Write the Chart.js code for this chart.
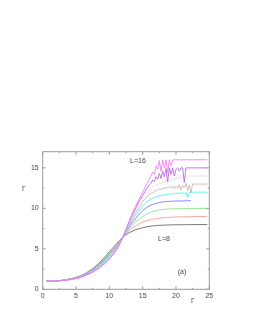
<!DOCTYPE html>
<html lang="en">
  <head>
    <meta charset="UTF-8" />
    <script src="https://cdn.jsdelivr.net/npm/chart.js"></script>
    <title>Gamma vs Gamma</title>
    <style>
      html, body { margin: 0; padding: 0; background: #fff; }
      #wrap { width: 253px; height: 327px; }
    </style>
  </head>
  <body>
    <div id="wrap"><canvas id="myChart"></canvas></div>
    <script>
      // x positions shared by every curve
      const xs = [0.5, 1.5, 2.5, 3.5, 4.5, 5.5, 6.5, 7.5, 8.5, 9.5, 10, 10.5, 11, 11.5, 12, 12.5, 13, 13.5, 14, 14.5, 15, 15.5, 16,
        16.25, 16.5, 16.75, 17, 17.25, 17.5, 17.75, 18, 18.25, 18.5, 18.75, 19, 19.25, 19.5, 19.75, 20, 20.25, 20.5, 20.75,
        21, 21.25, 21.5, 21.75, 22, 22.25, 22.5, 23, 24.7];

      const L8 = [1.0, 1.02, 1.07, 1.18, 1.36, 1.62, 2.00, 2.55, 3.25, 4.15, 4.65, 5.10, 5.55, 6.00, 6.45, 6.75, 7.00, 7.20, 7.38, 7.50, 7.60, 7.70, 7.78,
        7.80, 7.83, 7.85, 7.87, 7.88, 7.90, 7.91, 7.92, 7.93, 7.94, 7.95, 7.95, 7.96, 7.96, 7.97, 7.97, 7.97, 7.98, 7.98,
        7.98, 7.98, 7.99, 7.99, 7.99, 7.99, 8.0, 8.0, 8.0];
      const L9 = [1.0, 1.02, 1.07, 1.17, 1.35, 1.60, 1.96, 2.49, 3.17, 4.04, 4.53, 4.99, 5.45, 5.93, 6.44, 6.90, 7.25, 7.60, 7.85, 8.10, 8.30, 8.45, 8.55,
        8.60, 8.65, 8.68, 8.72, 8.75, 8.78, 8.80, 8.82, 8.84, 8.86, 8.88, 8.89, 8.90, 8.91, 8.92, 8.93, 8.94, 8.94, 8.95,
        8.95, 8.96, 8.96, 8.96, 8.97, 8.97, 8.98, 9.0, 9.0];
      const L10 = [1.0, 1.02, 1.07, 1.17, 1.33, 1.57, 1.93, 2.43, 3.09, 3.94, 4.41, 4.88, 5.35, 5.86, 6.43, 7.00, 7.50, 7.95, 8.35, 8.70, 9.00, 9.25, 9.45,
        9.52, 9.60, 9.66, 9.72, 9.76, 9.80, 9.83, 9.86, 9.88, 9.90, 9.91, 9.92, 9.93, 9.94, 9.95, 9.95, 9.96, 9.96, 9.97,
        9.97, 9.97, 9.98, 9.98, 9.98, 9.98, 9.99, 10.0, 10.0];
      const L11 = [1.0, 1.02, 1.06, 1.16, 1.32, 1.55, 1.89, 2.38, 3.01, 3.83, 4.30, 4.76, 5.25, 5.79, 6.42, 7.10, 7.70, 8.30, 8.80, 9.30, 9.70, 10.05, 10.30,
        10.40, 10.48, 10.55, 10.62, 10.67, 10.72, 10.76, 10.80, 10.82, 10.84, 10.86, 10.87, 10.88, 10.89, 10.90, 10.90, 10.91, 10.91, 10.92,
        10.92, 10.93, 10.93, 10.94, 10.94, 10.95, null, null, null];
      const L12 = [1.0, 1.02, 1.06, 1.15, 1.30, 1.52, 1.85, 2.32, 2.93, 3.72, 4.18, 4.65, 5.15, 5.72, 6.41, 7.20, 7.90, 8.60, 9.20, 9.80, 10.30, 10.75, 11.05,
        11.15, 11.25, 11.33, 11.42, 11.48, 11.55, 11.60, 11.65, 11.68, 11.72, 11.74, 11.77, 11.80, 11.82, 11.80, 11.85, 11.88, 11.85, 11.90,
        11.95, 11.80, 11.95, 11.30, 12.0, 12.0, 12.0, 12.0, 12.0];
      const L13 = [1.0, 1.02, 1.06, 1.14, 1.29, 1.50, 1.81, 2.26, 2.85, 3.62, 4.06, 4.54, 5.05, 5.65, 6.40, 7.30, 8.05, 8.85, 9.55, 10.20, 10.80, 11.30, 11.70,
        11.85, 11.95, 12.10, 12.20, 12.25, 12.40, 12.30, 12.50, 12.45, 12.60, 12.50, 12.70, 12.55, 12.80, 12.40, 12.75, 12.50, 12.90, 12.30,
        12.80, 12.60, 13.10, 12.20, 12.90, 11.90, 13.0, 13.0, 13.0];
      const L14 = [1.0, 1.02, 1.05, 1.14, 1.27, 1.47, 1.78, 2.21, 2.77, 3.51, 3.94, 4.43, 4.95, 5.58, 6.39, 7.35, 8.20, 9.10, 9.85, 10.60, 11.20, 11.80, 12.30,
        12.50, 12.70, 12.75, 12.95, 12.85, 13.10, 13.00, 13.30, 13.20, 13.60, 13.10, 13.70, 13.30, 13.80, 13.40, 13.90, 13.50, 14.00, 13.60,
        14.00, 13.80, 14.00, 14.00, 14.00, 14.00, 14.0, 14.0, 14.0];
      const L15 = [1.0, 1.02, 1.05, 1.13, 1.26, 1.45, 1.74, 2.16, 2.69, 3.41, 3.83, 4.31, 4.85, 5.51, 6.38, 7.40, 8.35, 9.30, 10.10, 10.90, 11.60, 12.30, 12.90,
        13.10, 13.50, 13.30, 13.90, 13.60, 14.30, 13.70, 14.60, 13.90, 14.90, 13.30, 15.00, 14.20, 15.00, 14.00, 14.80, 15.00, 14.60, 15.00,
        15.00, 13.20, 15.00, 15.00, 15.00, 15.00, 15.0, 15.0, 15.0];
      const L16 = [1.0, 1.02, 1.05, 1.12, 1.24, 1.42, 1.70, 2.10, 2.62, 3.30, 3.72, 4.20, 4.75, 5.45, 6.37, 7.45, 8.50, 9.50, 10.40, 11.20, 12.00, 12.80, 13.60,
        14.00, 14.50, 14.20, 15.20, 14.80, 15.90, 14.60, 16.00, 15.00, 16.00, 14.40, 16.00, 15.30, 16.00, 16.00, 16.00, 16.00, 16.00, 16.00,
        16.00, 16.00, 16.00, 16.00, 16.00, 16.00, 16.0, 16.0, 16.0];

      const series = [L8, L9, L10, L11, L12, L13, L14, L15, L16];
      const colors = ["#666666", "#f59a9a", "#8ce48c", "#7a7af2", "#55f0f0", "#d0b2ac", "#ebdfe7", "#bb66e6", "#f282f2"];

      const yTicks = [0, 5, 10, 15];

      const datasets = series.map((ys, i) => ({
        label: "L=" + (8 + i),
        data: xs.map((x, j) => ({ x: x, y: ys[j] })),
        borderColor: colors[i],
        backgroundColor: colors[i],
        borderWidth: 0.9,
        pointRadius: 0,
        tension: 0,
        fill: false,
        spanGaps: false,
        order: series.length - i
      }));

      // gnuplot style frame, inward ticks and labels
      const framePlugin = {
        id: "frame",
        afterDraw(chart) {
          const c = chart.ctx;
          const a = chart.chartArea;
          const sx = chart.scales.x, sy = chart.scales.y;
          c.save();
          c.strokeStyle = "#999";
          c.lineWidth = 1;
          c.strokeRect(a.left, a.top, a.right - a.left, a.bottom - a.top);
          c.beginPath();
          for (let v = 0; v <= 25; v += 2.5) {
            const px = sx.getPixelForValue(v);
            const len = v % 5 === 0 ? 3 : 1.5;
            c.moveTo(px, a.bottom); c.lineTo(px, a.bottom - len);
            c.moveTo(px, a.top); c.lineTo(px, a.top + len);
          }
          for (let v = 0; v <= 17; v += 2.5) {
            const py = sy.getPixelForValue(v);
            const len = v % 5 === 0 ? 3 : 1.5;
            c.moveTo(a.left, py); c.lineTo(a.left + len, py);
            c.moveTo(a.right, py); c.lineTo(a.right - len, py);
          }
          c.stroke();

          c.fillStyle = "#444";
          c.font = "7px 'Liberation Sans', Arial, sans-serif";
          c.textAlign = "center";
          c.textBaseline = "middle";
          c.fillText("Γ", 24, 189);
          c.fillText("Γ", 193, 301);
          c.fillText("L=16", 138, 161);
          c.fillText("L=8", 164, 239);
          c.fillText("(a)", 182, 272);
          c.restore();
        }
      };

      new Chart(document.getElementById("myChart"), {
        type: "line",
        data: { datasets: datasets },
        options: {
          responsive: true,
          maintainAspectRatio: false,
          animation: false,
          layout: { padding: { top: 151.7, right: 43.7, left: 0, bottom: 0 } },
          plugins: { legend: { display: false }, tooltip: { enabled: false } },
          scales: {
            x: {
              type: "linear",
              min: 0,
              max: 25,
              grid: { display: false, drawTicks: false },
              border: { display: false },
              ticks: { stepSize: 5, padding: 3, color: "#444", font: { size: 7, family: "'Liberation Sans', Arial, sans-serif" } },
              afterFit(s) { s.height = 37.7; }
            },
            y: {
              type: "linear",
              min: 0,
              max: 17,
              grid: { display: false, drawTicks: false },
              border: { display: false },
              ticks: { stepSize: 5, padding: 4, color: "#444", font: { size: 7, family: "'Liberation Sans', Arial, sans-serif" } },
              afterBuildTicks(s) { s.ticks = yTicks.map(v => ({ value: v })); },
              afterFit(s) { s.width = 42.7; }
            }
          }
        },
        plugins: [framePlugin]
      });
    </script>
  </body>
</html>
